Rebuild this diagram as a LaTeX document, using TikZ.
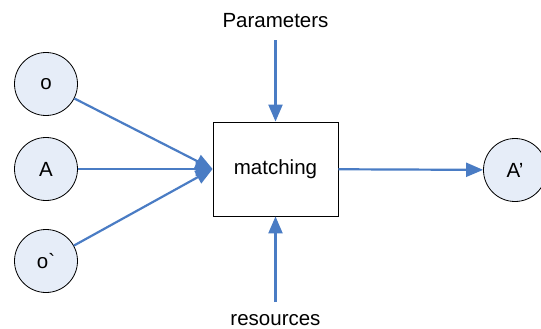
\documentclass[tikz,border=0pt]{standalone}
\usepackage{fontspec}
\setmainfont{Liberation Sans}
\usetikzlibrary{arrows.meta}
\definecolor{flowblue}{HTML}{4A7CC4}
\definecolor{statefill}{HTML}{E6EDF8}
\tikzset{
  state/.style={circle, draw=black, line width=0.8pt, fill=statefill,
    minimum size=63pt, inner sep=0pt, font=\fontsize{20.5}{24}\selectfont},
  procbox/.style={rectangle, draw=black, line width=0.8pt, fill=white,
    minimum width=125pt, minimum height=94pt, font=\fontsize{20.5}{24}\selectfont},
  label/.style={inner sep=0pt, font=\fontsize{20.5}{24}\selectfont},
  flow/.style={draw=flowblue, line width=2.2pt,
    -{Triangle[length=17pt,width=14pt]}}
}
\begin{document}
\begin{tikzpicture}[x=1pt,y=-1pt]
\useasboundingbox (0,0) rectangle (541,329);
\node[state] (o) at (46,84) {o};
\node[state] (a) at (46,169) {A};
\node[state] (ob) at (46,261) {o\textasciigrave};
\node[state] (ap) at (515,170) {A’};
\node[procbox] (m) at (275.5,169) {matching};
\node[label] (par) at (275.5,21) {Parameters};
\node[label] (res) at (275.5,320) {resources};
\coordinate (mw) at (m.west);
\draw[flow] (o) -- (mw);
\draw[flow] (a) -- (mw);
\draw[flow] (ob) -- (mw);
\draw[flow] (m) -- (ap);
\draw[flow, shorten <=12pt] (par.south) -- (m.north);
\draw[flow, shorten <=12pt] (res.north) -- (m.south);
\end{tikzpicture}
\end{document}
